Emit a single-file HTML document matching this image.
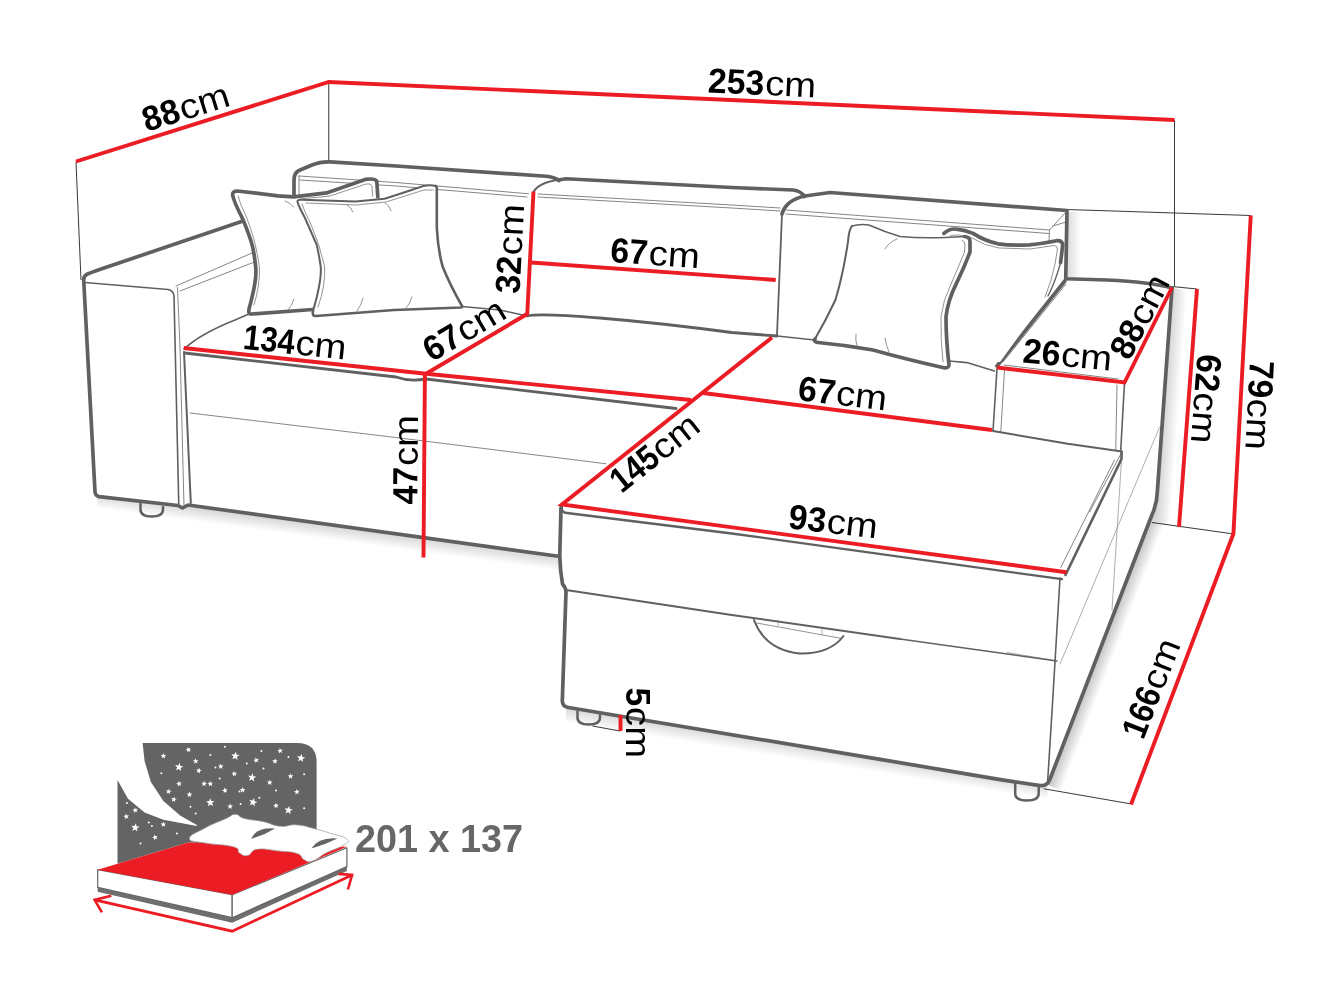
<!DOCTYPE html>
<html><head><meta charset="utf-8"><title>Sofa dimensions</title>
<style>
html,body{margin:0;padding:0;background:#fff;}
body{width:1343px;height:1007px;overflow:hidden;font-family:"Liberation Sans",sans-serif;}
svg{display:block;will-change:transform;}
svg text{font-family:"Liberation Sans",sans-serif;}
</style></head><body>
<svg width="1343" height="1007" viewBox="0 0 1343 1007">
<rect width="1343" height="1007" fill="#fff"/>
<defs><linearGradient id="s1" gradientUnits="userSpaceOnUse" x1="1165" y1="391" x2="1180" y2="392.1"><stop offset="0" stop-color="#000" stop-opacity=".17"/><stop offset="1" stop-color="#000" stop-opacity="0"/></linearGradient><linearGradient id="s2" gradientUnits="userSpaceOnUse" x1="1099" y1="652" x2="1113" y2="657.4"><stop offset="0" stop-color="#000" stop-opacity=".24"/><stop offset="1" stop-color="#000" stop-opacity="0"/></linearGradient><linearGradient id="s3" gradientUnits="userSpaceOnUse" x1="370" y1="531" x2="368.1" y2="545"><stop offset="0" stop-color="#000" stop-opacity=".16"/><stop offset="1" stop-color="#000" stop-opacity="0"/></linearGradient><linearGradient id="s4" gradientUnits="userSpaceOnUse" x1="808" y1="746" x2="805.6" y2="761"><stop offset="0" stop-color="#000" stop-opacity=".16"/><stop offset="1" stop-color="#000" stop-opacity="0"/></linearGradient><linearGradient id="s5" gradientUnits="userSpaceOnUse" x1="1068" y1="0" x2="1081" y2="0"><stop offset="0" stop-color="#000" stop-opacity=".13"/><stop offset="1" stop-color="#000" stop-opacity="0"/></linearGradient></defs>
<polygon points="1172,288 1157,495 1156,507 1151,520 1166,525.5 1171,509 1172,497 1187,290" fill="url(#s1)"/>
<polygon points="1150.75,520 1047.5,785 1061.5,790.4 1164.8,525.4" fill="url(#s2)"/>
<polygon points="97,496.5 183.75,506 558.5,556.25 558.5,571.5 183.75,521 97,511.5" fill="url(#s3)"/>
<polygon points="566,707 1047.5,785 1047.5,800.5 566,722.5" fill="url(#s4)"/>
<rect x="1068" y="212" width="13" height="66" fill="url(#s5)"/>
<path d="M328.75,82 V160" fill="none" stroke="#222" stroke-width="0.9"/>
<path d="M76,162 L81,280" fill="none" stroke="#222" stroke-width="0.9"/>
<path d="M1174.5,120 V286" fill="none" stroke="#222" stroke-width="0.9"/>
<path d="M1067,209.5 L1250.75,215.5" fill="none" stroke="#222" stroke-width="0.9"/>
<path d="M1172,286.5 L1197,289" fill="none" stroke="#222" stroke-width="0.9"/>
<path d="M1152,522.5 L1232,533.75" fill="none" stroke="#222" stroke-width="0.9"/>
<path d="M1043.75,788.75 L1130,803.75" fill="none" stroke="#222" stroke-width="0.9"/>
<path d="M592.5,726 L620,731" fill="none" stroke="#222" stroke-width="0.9"/>
<path d="M176,286 L252,253" fill="none" stroke="#777" stroke-width="0.9" stroke-linecap="round" stroke-linejoin="round" />
<path d="M180,291 L257,261" fill="none" stroke="#777" stroke-width="0.9" stroke-linecap="round" stroke-linejoin="round" />
<path d="M177.5,287.5 L180,347 L184,506" fill="none" stroke="#777" stroke-width="0.9" stroke-linecap="round" stroke-linejoin="round" />
<path d="M299,176 L396,182.5 L528.5,193.75" fill="none" stroke="#777" stroke-width="0.9" stroke-linecap="round" stroke-linejoin="round" />
<path d="M300,180 L396,186 L527,197" fill="none" stroke="#777" stroke-width="0.9" stroke-linecap="round" stroke-linejoin="round" />
<path d="M299,176 L299,194" fill="none" stroke="#777" stroke-width="0.9" stroke-linecap="round" stroke-linejoin="round" />
<path d="M538,194 L731.75,205 L780,208" fill="none" stroke="#777" stroke-width="0.9" stroke-linecap="round" stroke-linejoin="round" />
<path d="M538,197 L731.75,208 L780,211" fill="none" stroke="#777" stroke-width="0.9" stroke-linecap="round" stroke-linejoin="round" />
<path d="M785.75,210 L1049.5,230 L1066,212" fill="none" stroke="#777" stroke-width="0.9" stroke-linecap="round" stroke-linejoin="round" />
<path d="M786,214 L1049,233.5" fill="none" stroke="#777" stroke-width="0.9" stroke-linecap="round" stroke-linejoin="round" />
<path d="M1049.5,230 L1048,262" fill="none" stroke="#777" stroke-width="0.9" stroke-linecap="round" stroke-linejoin="round" />
<path d="M1053,226 L1066,222" fill="none" stroke="#777" stroke-width="0.9" stroke-linecap="round" stroke-linejoin="round" />
<path d="M190,413 L396,437.5 L606,463.75" fill="none" stroke="#777" stroke-width="0.9" stroke-linecap="round" stroke-linejoin="round" />
<path d="M1004.5,370 L1000.75,432.5" fill="none" stroke="#777" stroke-width="0.9" stroke-linecap="round" stroke-linejoin="round" />
<path d="M1117,385 L1115.75,450" fill="none" stroke="#777" stroke-width="0.9" stroke-linecap="round" stroke-linejoin="round" />
<path d="M1004,365 L1118,379" fill="none" stroke="#777" stroke-width="0.9" stroke-linecap="round" stroke-linejoin="round" />
<path d="M1003,362 L1066,284" fill="none" stroke="#777" stroke-width="0.9" stroke-linecap="round" stroke-linejoin="round" />
<path d="M1060.75,567.5 L1114.5,460" fill="none" stroke="#777" stroke-width="0.9" stroke-linecap="round" stroke-linejoin="round" />
<path d="M1122,452 L1112,610" fill="none" stroke="#777" stroke-width="0.6" stroke-linecap="round" stroke-linejoin="round" />
<path d="M1159.6,427 L1060,664" fill="none" stroke="#777" stroke-width="0.6" stroke-linecap="round" stroke-linejoin="round" />
<path d="M1007,652.5 L1052,660" fill="none" stroke="#777" stroke-width="0.6" stroke-linecap="round" stroke-linejoin="round" />
<path d="M1122,452 L1089.5,512" fill="none" stroke="#777" stroke-width="0.9" stroke-linecap="round" stroke-linejoin="round" />
<path d="M85,282.5 L168,289.5 Q173.5,290.5 174,296 L178.75,504" fill="none" stroke="#606060" stroke-width="1.6" stroke-linecap="round" stroke-linejoin="round" />
<path d="M184,349 Q200,334 235,320 L250,313.5" fill="none" stroke="#606060" stroke-width="1.6" stroke-linecap="round" stroke-linejoin="round" />
<path d="M184,352 L190.8,503" fill="none" stroke="#606060" stroke-width="2.0" stroke-linecap="round" stroke-linejoin="round" />
<path d="M184.5,353 L396,377 Q410,382 426,379 L676,408.5" fill="none" stroke="#606060" stroke-width="2.8" stroke-linecap="round" stroke-linejoin="round" />
<path d="M462,306.5 L500,310 L527,316" fill="none" stroke="#606060" stroke-width="1.6" stroke-linecap="round" stroke-linejoin="round" />
<path d="M527,316 Q540,313 600,318 T731.75,332.5 L777,336" fill="none" stroke="#606060" stroke-width="2.8" stroke-linecap="round" stroke-linejoin="round" />
<path d="M428,372 L526,313" fill="none" stroke="#606060" stroke-width="1.2" stroke-linecap="round" stroke-linejoin="round" />
<path d="M782,214 L777,335" fill="none" stroke="#606060" stroke-width="1.8" stroke-linecap="round" stroke-linejoin="round" />
<path d="M777,336 L814.5,340" fill="none" stroke="#606060" stroke-width="1.6" stroke-linecap="round" stroke-linejoin="round" />
<path d="M949.5,361 L966.8,362.6 L994.5,371" fill="none" stroke="#606060" stroke-width="1.6" stroke-linecap="round" stroke-linejoin="round" />
<path d="M997,368.75 L993,431" fill="none" stroke="#606060" stroke-width="1.6" stroke-linecap="round" stroke-linejoin="round" />
<path d="M993,431 L1067.75,443.75 L1122,451.5" fill="none" stroke="#606060" stroke-width="2.0" stroke-linecap="round" stroke-linejoin="round" />
<path d="M1124.5,382.5 L1120.75,450" fill="none" stroke="#606060" stroke-width="1.6" stroke-linecap="round" stroke-linejoin="round" />
<path d="M561.5,508 Q562,512.5 567,513 L731.75,533.5 L1062,579.2" fill="none" stroke="#606060" stroke-width="2.3" stroke-linecap="round" stroke-linejoin="round" />
<path d="M566,590 L731.75,615 L900,639" fill="none" stroke="#606060" stroke-width="2.0" stroke-linecap="round" stroke-linejoin="round" />
<path d="M900,639 L1057,661" fill="none" stroke="#606060" stroke-width="1.4" stroke-linecap="round" stroke-linejoin="round" />
<path d="M1060,578 L1052,711.75 L1047.5,783.75" fill="none" stroke="#606060" stroke-width="1.6" stroke-linecap="round" stroke-linejoin="round" />
<path d="M1065.5,575 L1121.5,459 L1121.5,452" fill="none" stroke="#606060" stroke-width="2.6" stroke-linecap="round" stroke-linejoin="round" />
<path d="M754,620 Q765,650 800,653.5 Q830,654 843.5,636" fill="none" stroke="#606060" stroke-width="2.0" stroke-linecap="round" stroke-linejoin="round" />
<path d="M754,622.5 L842,638.5" fill="none" stroke="#777" stroke-width="0.8" stroke-linecap="round" stroke-linejoin="round" />
<path d="M778,620 L778,625.5 M822,627 L822,634.5" fill="none" stroke="#777" stroke-width="0.6" stroke-linecap="round" stroke-linejoin="round" />
<path d="M140.5,504 V509.5 Q140.5,516.5 151.75,516.5 Q163,516.5 163,509.5 V507" fill="none" stroke="#606060" stroke-width="2.5" stroke-linecap="round" stroke-linejoin="round" />
<path d="M577.5,711 V717.5 Q577.5,724.5 588.75,724.5 Q600,724.5 600,717.5 V715" fill="none" stroke="#606060" stroke-width="2.5" stroke-linecap="round" stroke-linejoin="round" />
<path d="M1015.2,783.4 V793.6 Q1015.2,800.6 1026.95,800.6 Q1038.7,800.6 1038.7,793.6 V788.1" fill="none" stroke="#606060" stroke-width="2.5" stroke-linecap="round" stroke-linejoin="round" />
<path d="M243,221 L110,266 Q95,271 87.5,274 Q83,276 83.75,281 L95,492 Q95.3,496 99,496.6 L178,505.5 L182.5,508 L188,505 L558.5,556.25" fill="none" stroke="#606060" stroke-width="3.7" stroke-linecap="round" stroke-linejoin="round" />
<path d="M294,197 L294,180 Q294,173 299,170.5 L312,165 Q320,161.5 330,161.8 L396,166 L546,176.25 Q554,177 559,180.5" fill="none" stroke="#606060" stroke-width="3.7" stroke-linecap="round" stroke-linejoin="round" />
<path d="M533.5,192 Q538,183 559,179.5" fill="none" stroke="#606060" stroke-width="2.0" stroke-linecap="round" stroke-linejoin="round" />
<path d="M558,180 L566,178.75 L731.75,187.5 L793,190 Q801,191 804.5,196.5" fill="none" stroke="#606060" stroke-width="3.7" stroke-linecap="round" stroke-linejoin="round" />
<path d="M782,214 Q786,200 805,196 L830,192.5 L1067,210.5 L1065.75,278.75 L1107,280 Q1150,282 1172,288" fill="none" stroke="#606060" stroke-width="3.7" stroke-linecap="round" stroke-linejoin="round" />
<path d="M1172,288 L1157.3,492 Q1157,504 1151.5,516 L1050,779 Q1047.5,786.5 1040,785.6 L1000,779.6 L875.75,758.6 L568.5,707.5 Q562.5,706.5 562.3,701 L566,592 Q566,588 562.5,584 Q560,570 559.75,555 L561,508 Q561.3,505.5 562,505" fill="none" stroke="#606060" stroke-width="3.7" stroke-linecap="round" stroke-linejoin="round" />
<path d="M1064.8,281 L997,366" fill="none" stroke="#606060" stroke-width="3.7" stroke-linecap="round" stroke-linejoin="round" />
<path d="M232.6,194 Q233,191 237.4,191 L278,195.8 L293.6,196.8 L326.5,192.9 L365.2,179.4 Q375,178 376.8,181.3 L377.8,197 L300,200 L316,245 L320,267 L313,311 L251,314 Q248,314 249,309 Q257,280 255.8,268 Q254,250 251,241 Q246,226 241.3,216 Q234,202 232.6,194 Z" fill="#fff" stroke="none"/>
<path d="M377.8,197 L376.8,181.3 Q375,178 365.2,179.4 L326.5,192.9 L293.6,196.8 L278,195.8 L237.4,191 Q232.5,191 232.6,195 Q234,202 241.3,216 Q246,226 251,241 Q254,250 255.8,268 Q257,280 249,309 Q248,314.5 252,314 L313,309.5" fill="none" stroke="#606060" stroke-width="3.7" stroke-linecap="round" stroke-linejoin="round" />
<path d="M238,196 Q240,204 246,216 Q256,240 259.5,268 Q260,285 254,305" fill="none" stroke="#777" stroke-width="0.8" stroke-linecap="round" stroke-linejoin="round" />
<path d="M300,199 L330,196 L366,184 Q371,183 372,186 L372.5,196" fill="none" stroke="#777" stroke-width="0.8" stroke-linecap="round" stroke-linejoin="round" />
<path d="M297.4,201 Q298,199.5 301.3,199.7 L355.5,201.6 L384.6,198.7 L423.3,186 L435.9,186 Q437,186 436.8,189 L436.8,227.8 Q438,250 442.6,266.5 L462,306 L394,310 L314.9,315.9 Q312,316 313,311 Q322,280 320.7,266.5 Q319,255 316.8,245 L305,218 Q299,207 297.4,201 Z" fill="#fff"/>
<path d="M435.9,186 Q437,187 436.8,189 L436.8,227.8 Q438,250 442.6,266.5 Q450,285 462,306 Q462.5,307.5 461,307.5 L394,310 L316,316 Q312,316.5 313,311" fill="none" stroke="#606060" stroke-width="2.6" stroke-linecap="round" stroke-linejoin="round" />
<path d="M313,311 Q322,280 320.7,266.5 Q319,255 316.8,245 L305,218 Q299,207 297.4,201.6 Q297.4,199.5 301.3,199.7 L355.5,201.6 L384.6,198.7 Q400,194 423.3,186 Q430,184.5 435.9,186" fill="none" stroke="#606060" stroke-width="2.0" stroke-linecap="round" stroke-linejoin="round" />
<path d="M302,204 Q304,211 310,222 Q320,245 324.5,266 Q326,285 318,307" fill="none" stroke="#777" stroke-width="0.8" stroke-linecap="round" stroke-linejoin="round" />
<path d="M306,203 L356,205 L386,202 L424,190 L433,190" fill="none" stroke="#777" stroke-width="0.8" stroke-linecap="round" stroke-linejoin="round" />
<path d="M285,201 Q291,203 293.5,207 M347,205 Q351,207 353,212 M385,203 Q389,205 391,211" fill="none" stroke="#777" stroke-width="0.8" stroke-linecap="round" stroke-linejoin="round" />
<path d="M294,299 Q292,306 288,310 M363,298 Q361,306 357,311 M412,297 Q410,304 406,308" fill="none" stroke="#777" stroke-width="0.8" stroke-linecap="round" stroke-linejoin="round" />
<path d="M943.9,233.4 Q950,228 956.4,229.2 Q965,230 973,233.4 Q985,241 998,243.8 L1029.4,244.8 L1056.5,240.7 Q1062,240 1062.7,244.8 L1060.6,262.6 L1048,296 L1000,362 L950,360 Z" fill="#fff"/>
<path d="M943.9,233.4 Q950,228 956.4,229.2 Q965,230 973,233.4 Q985,241 998,243.8 Q1012,246 1029.4,244.8 Q1045,243 1056.5,240.7 Q1062,240 1062.7,244.8 L1060.6,262.6" fill="none" stroke="#606060" stroke-width="3.7" stroke-linecap="round" stroke-linejoin="round" />
<path d="M1060.6,262.6 Q1056,280 1048,296" fill="none" stroke="#606060" stroke-width="1.4" stroke-linecap="round" stroke-linejoin="round" />
<path d="M950,236 Q958,233 972,238 Q985,246 999,248 L1030,249 L1054,245.5 Q1057.5,245.5 1057.5,249 L1055,264 Q1052,280 1045,297" fill="none" stroke="#777" stroke-width="0.8" stroke-linecap="round" stroke-linejoin="round" />
<path d="M852,226 Q860,223 868.8,225 L900,236.5 L946,237.5 L964.7,236.5 Q970,237 970,241.7 L970,252 L956.4,283.4 L946,316.8 L949,364.7 Q949,368 943.9,367.8 L873,350 L814.6,341.8 L835.4,300 L848,241.7 Z" fill="#fff"/>
<path d="M852,226 Q860,223.5 868.8,225 Q885,232 900,236.5 Q920,238.5 946,237.5 L964.7,236.5" fill="none" stroke="#606060" stroke-width="1.5" stroke-linecap="round" stroke-linejoin="round" />
<path d="M964.7,236.5 Q970,237 970,241.7 L970,252 Q964,268 956.4,283.4 Q948,300 946,316.8 Q946,340 949,364.7 Q949,368.3 943.9,367.8 Q905,359 873,350 Q845,345 818,342.5 Q813.5,342 815,339" fill="none" stroke="#606060" stroke-width="3.7" stroke-linecap="round" stroke-linejoin="round" />
<path d="M815,339 Q826,320 835.4,300 Q843,275 848,241.7 Q849,229 852,226" fill="none" stroke="#606060" stroke-width="2.0" stroke-linecap="round" stroke-linejoin="round" />
<path d="M962,240 Q965,241 965,245 L964.5,252 Q958,268 951,284 Q943,300 941,317 Q940.5,340 943,362" fill="none" stroke="#777" stroke-width="0.8" stroke-linecap="round" stroke-linejoin="round" />
<path d="M885,249 Q889,242 897,239 M856,334 Q855,339 857,346 M885,338 Q886,345 889,352" fill="none" stroke="#777" stroke-width="0.8" stroke-linecap="round" stroke-linejoin="round" />
<path d="M76,161.5 L328.75,82 L1174.5,120" fill="none" stroke="#ec1c24" stroke-width="3.9" stroke-linecap="butt" stroke-linejoin="miter"/>
<path d="M533.5,191.5 L527.25,314 L426,373.75" fill="none" stroke="#ec1c24" stroke-width="3.9" stroke-linecap="butt" stroke-linejoin="miter"/>
<path d="M531,262.5 L775.75,280" fill="none" stroke="#ec1c24" stroke-width="3.9" stroke-linecap="butt" stroke-linejoin="miter"/>
<path d="M183.75,348 L426,373.75 L691,400" fill="none" stroke="#ec1c24" stroke-width="3.9" stroke-linecap="butt" stroke-linejoin="miter"/>
<path d="M424.9,373.75 L423.5,557.5" fill="none" stroke="#ec1c24" stroke-width="3.9" stroke-linecap="butt" stroke-linejoin="miter"/>
<path d="M772,337.5 L562,504.5 L1066.5,572.3" fill="none" stroke="#ec1c24" stroke-width="3.9" stroke-linecap="butt" stroke-linejoin="miter"/>
<path d="M703,393 L992,430" fill="none" stroke="#ec1c24" stroke-width="3.9" stroke-linecap="butt" stroke-linejoin="miter"/>
<path d="M997,367.5 L1124.5,382.5 L1172,287.5" fill="none" stroke="#ec1c24" stroke-width="3.9" stroke-linecap="butt" stroke-linejoin="miter"/>
<path d="M1197,289 L1179,527" fill="none" stroke="#ec1c24" stroke-width="3.9" stroke-linecap="butt" stroke-linejoin="miter"/>
<path d="M1250.75,215.5 L1233.4,533.75 L1131,804.5" fill="none" stroke="#ec1c24" stroke-width="3.9" stroke-linecap="butt" stroke-linejoin="miter"/>
<path d="M620.5,715 V731" fill="none" stroke="#ec1c24" stroke-width="3.9" stroke-linecap="butt" stroke-linejoin="miter"/>
<text transform="translate(146.5,132) rotate(-17.4)" font-size="35" fill="#000"><tspan font-weight="700" textLength="37.6" lengthAdjust="spacingAndGlyphs">88</tspan><tspan x="38.4" textLength="51" lengthAdjust="spacingAndGlyphs">cm</tspan></text>
<text transform="translate(707.5,92.5) rotate(2.6)" font-size="35" fill="#000"><tspan font-weight="700" textLength="56.4" lengthAdjust="spacingAndGlyphs">253</tspan><tspan x="57.2" textLength="51" lengthAdjust="spacingAndGlyphs">cm</tspan></text>
<text transform="translate(519.5,294) rotate(-87)" font-size="35" fill="#000"><tspan font-weight="700" textLength="37.6" lengthAdjust="spacingAndGlyphs">32</tspan><tspan x="38.4" textLength="51" lengthAdjust="spacingAndGlyphs">cm</tspan></text>
<text transform="translate(609.75,262) rotate(4)" font-size="35" fill="#000"><tspan font-weight="700" textLength="37.6" lengthAdjust="spacingAndGlyphs">67</tspan><tspan x="38.4" textLength="51" lengthAdjust="spacingAndGlyphs">cm</tspan></text>
<text transform="translate(242.3,348.8) rotate(6)" font-size="35" fill="#000"><tspan font-weight="700" textLength="51.6" lengthAdjust="spacingAndGlyphs">134</tspan><tspan x="52.4" textLength="51" lengthAdjust="spacingAndGlyphs">cm</tspan></text>
<text transform="translate(431.7,362.4) rotate(-30.5)" font-size="35" fill="#000"><tspan font-weight="700" textLength="37.6" lengthAdjust="spacingAndGlyphs">67</tspan><tspan x="38.4" textLength="51" lengthAdjust="spacingAndGlyphs">cm</tspan></text>
<text transform="translate(417.2,504.5) rotate(-89.5)" font-size="35" fill="#000"><tspan font-weight="700" textLength="37.6" lengthAdjust="spacingAndGlyphs">47</tspan><tspan x="38.4" textLength="51" lengthAdjust="spacingAndGlyphs">cm</tspan></text>
<text transform="translate(621.5,494) rotate(-38.5)" font-size="35" fill="#000"><tspan font-weight="700" textLength="51.6" lengthAdjust="spacingAndGlyphs">145</tspan><tspan x="52.4" textLength="51" lengthAdjust="spacingAndGlyphs">cm</tspan></text>
<text transform="translate(797,400) rotate(6.8)" font-size="35" fill="#000"><tspan font-weight="700" textLength="37.6" lengthAdjust="spacingAndGlyphs">67</tspan><tspan x="38.4" textLength="51" lengthAdjust="spacingAndGlyphs">cm</tspan></text>
<text transform="translate(787.5,528.3) rotate(6.5)" font-size="35" fill="#000"><tspan font-weight="700" textLength="37.6" lengthAdjust="spacingAndGlyphs">93</tspan><tspan x="38.4" textLength="51" lengthAdjust="spacingAndGlyphs">cm</tspan></text>
<text transform="translate(1022,362.5) rotate(5.2)" font-size="35" fill="#000"><tspan font-weight="700" textLength="37.6" lengthAdjust="spacingAndGlyphs">26</tspan><tspan x="38.4" textLength="51" lengthAdjust="spacingAndGlyphs">cm</tspan></text>
<text transform="translate(1129.4,361.5) rotate(-62.5)" font-size="35" fill="#000"><tspan font-weight="700" textLength="37.6" lengthAdjust="spacingAndGlyphs">88</tspan><tspan x="38.4" textLength="51" lengthAdjust="spacingAndGlyphs">cm</tspan></text>
<text transform="translate(1197.5,353.5) rotate(94.3)" font-size="35" fill="#000"><tspan font-weight="700" textLength="37.6" lengthAdjust="spacingAndGlyphs">62</tspan><tspan x="38.4" textLength="51" lengthAdjust="spacingAndGlyphs">cm</tspan></text>
<text transform="translate(1250,360) rotate(93)" font-size="35" fill="#000"><tspan font-weight="700" textLength="37.6" lengthAdjust="spacingAndGlyphs">79</tspan><tspan x="38.4" textLength="51" lengthAdjust="spacingAndGlyphs">cm</tspan></text>
<text transform="translate(1143.2,740.6) rotate(-68.5)" font-size="35" fill="#000"><tspan font-weight="700" textLength="51.6" lengthAdjust="spacingAndGlyphs">166</tspan><tspan x="52.4" textLength="51" lengthAdjust="spacingAndGlyphs">cm</tspan></text>
<text transform="translate(625.5,687.5) rotate(90)" font-size="35" fill="#000"><tspan font-weight="700" textLength="18.8" lengthAdjust="spacingAndGlyphs">5</tspan><tspan x="19.6" textLength="51" lengthAdjust="spacingAndGlyphs">cm</tspan></text>
<path d="M117.5,743 H297 Q316.6,743 316.6,762 V846 L188.4,842.6 L117.5,863.8 Z" fill="#646464"/>
<polygon points="115.4,740.4 142.6,742.9 144.6,761.3 150.9,782.1 163.4,800.9 180.1,815.5 196.8,824.9 196.8,825.9 163.4,819.7 144.6,812.4 128.0,798.8 117.5,780.0 115.4,780.0" fill="#fff"/>
<polygon points="187.6,746.9 188.9,748.6 190.9,748.2 189.7,749.9 190.8,751.7 188.7,751.0 187.3,752.6 187.4,750.5 185.4,749.7 187.4,749.0" fill="#fff"/>
<polygon points="163.5,753.1 164.2,755.1 166.3,755.2 164.6,756.5 165.1,758.6 163.4,757.3 161.6,758.4 162.2,756.4 160.6,755.0 162.7,755.0" fill="#fff"/>
<circle cx="224.9" cy="746.7" r="1" fill="#fff"/>
<polygon points="235.8,751.7 236.6,754.7 239.6,755.1 237.0,756.8 237.5,759.9 235.1,757.9 232.4,759.3 233.5,756.4 231.3,754.3 234.4,754.5" fill="#fff"/>
<polygon points="279.8,747.9 280.8,749.7 282.9,749.6 281.4,751.1 282.2,753.0 280.3,752.1 278.7,753.5 279.0,751.4 277.2,750.3 279.3,749.9" fill="#fff"/>
<polygon points="301.8,753.8 302.3,756.9 305.4,757.5 302.6,759.0 302.9,762.1 300.7,760.0 297.9,761.2 299.2,758.4 297.1,756.1 300.2,756.5" fill="#fff"/>
<circle cx="210.3" cy="755.0" r="1" fill="#fff"/>
<circle cx="261.4" cy="750.9" r="1" fill="#fff"/>
<circle cx="288.5" cy="757.1" r="1" fill="#fff"/>
<polygon points="255.6,757.3 256.7,759.1 258.8,758.7 257.4,760.4 258.4,762.2 256.5,761.5 255.0,763.0 255.1,760.9 253.2,759.9 255.3,759.4" fill="#fff"/>
<polygon points="275.2,758.3 275.8,760.3 277.9,760.6 276.1,761.8 276.5,763.8 274.8,762.5 273.0,763.5 273.7,761.6 272.2,760.1 274.3,760.2" fill="#fff"/>
<circle cx="246.8" cy="763.4" r="1" fill="#fff"/>
<polygon points="179.7,762.8 180.3,765.8 183.4,766.4 180.7,768.0 181.0,771.0 178.8,768.9 175.9,770.2 177.2,767.4 175.1,765.1 178.2,765.5" fill="#fff"/>
<polygon points="195.5,758.3 196.4,760.2 198.5,760.2 196.9,761.6 197.6,763.6 195.8,762.5 194.1,763.8 194.6,761.7 192.8,760.6 194.9,760.3" fill="#fff"/>
<polygon points="199.5,767.7 199.8,769.8 201.8,770.4 199.9,771.3 200.0,773.4 198.6,771.9 196.6,772.6 197.6,770.8 196.3,769.1 198.4,769.5" fill="#fff"/>
<polygon points="220.7,763.5 221.5,765.5 223.6,765.6 221.9,766.9 222.5,768.9 220.7,767.7 219.0,768.9 219.5,766.9 217.9,765.6 220.0,765.5" fill="#fff"/>
<circle cx="215.5" cy="767.5" r="1" fill="#fff"/>
<circle cx="263.5" cy="768.6" r="1" fill="#fff"/>
<polygon points="233.8,770.8 234.9,772.7 237.0,772.4 235.5,774.0 236.4,775.9 234.5,775.0 232.9,776.5 233.2,774.4 231.3,773.3 233.4,772.9" fill="#fff"/>
<polygon points="252.6,773.2 253.3,776.2 256.4,776.8 253.7,778.3 254.1,781.4 251.8,779.4 249.0,780.7 250.2,777.9 248.1,775.6 251.2,775.9" fill="#fff"/>
<polygon points="290.3,773.3 291.2,775.2 293.4,775.1 291.8,776.6 292.6,778.6 290.7,777.5 289.0,778.9 289.4,776.8 287.7,775.6 289.8,775.3" fill="#fff"/>
<circle cx="304.1" cy="774.2" r="1" fill="#fff"/>
<circle cx="161.3" cy="773.2" r="1" fill="#fff"/>
<polygon points="178.3,780.9 179.5,782.6 181.6,782.2 180.3,783.9 181.3,785.7 179.3,785.0 177.9,786.6 178.0,784.5 176.0,783.6 178.1,783.0" fill="#fff"/>
<polygon points="204.2,780.8 204.9,782.8 207.0,783.0 205.2,784.2 205.7,786.3 204.0,785.1 202.2,786.1 202.8,784.1 201.3,782.7 203.4,782.7" fill="#fff"/>
<polygon points="209.8,780.8 210.9,782.7 213.0,782.4 211.6,784.0 212.5,785.9 210.5,785.0 209.0,786.5 209.2,784.4 207.3,783.4 209.4,782.9" fill="#fff"/>
<polygon points="270.1,779.6 270.6,781.6 272.7,782.0 270.9,783.1 271.2,785.2 269.6,783.8 267.7,784.7 268.5,782.8 267.0,781.3 269.1,781.4" fill="#fff"/>
<circle cx="219.7" cy="778.4" r="1" fill="#fff"/>
<polygon points="169.2,788.6 169.5,790.7 171.6,791.1 169.7,792.1 169.9,794.2 168.4,792.7 166.4,793.6 167.4,791.7 166.0,790.1 168.1,790.4" fill="#fff"/>
<polygon points="189.4,791.6 190.2,793.6 192.3,793.6 190.7,795.0 191.3,797.0 189.5,795.9 187.8,797.1 188.3,795.1 186.6,793.8 188.7,793.6" fill="#fff"/>
<polygon points="224.1,787.6 225.4,789.3 227.4,788.8 226.2,790.5 227.2,792.4 225.2,791.7 223.8,793.3 223.9,791.2 221.9,790.3 223.9,789.7" fill="#fff"/>
<polygon points="242.7,787.1 243.4,789.1 245.5,789.2 243.8,790.5 244.3,792.5 242.6,791.3 240.8,792.4 241.4,790.4 239.8,789.0 241.9,789.0" fill="#fff"/>
<circle cx="239.5" cy="791.5" r="1" fill="#fff"/>
<circle cx="276.0" cy="790.5" r="1" fill="#fff"/>
<polygon points="296.5,788.9 297.5,790.8 299.6,790.7 298.1,792.2 298.9,794.1 297.0,793.2 295.4,794.6 295.7,792.5 293.9,791.4 296.0,791.0" fill="#fff"/>
<polygon points="174.3,796.5 174.7,798.6 176.8,799.0 174.9,800.0 175.1,802.1 173.6,800.7 171.7,801.5 172.6,799.6 171.2,798.0 173.3,798.3" fill="#fff"/>
<polygon points="210.1,798.2 211.3,801.0 214.4,801.0 212.1,803.0 213.1,806.0 210.4,804.4 207.9,806.3 208.6,803.2 206.1,801.4 209.2,801.1" fill="#fff"/>
<polygon points="254.1,798.1 254.5,801.2 257.5,802.0 254.6,803.3 254.7,806.4 252.6,804.1 249.7,805.2 251.2,802.5 249.3,800.0 252.4,800.6" fill="#fff"/>
<polygon points="230.2,803.5 230.9,805.5 233.0,805.6 231.3,806.9 231.8,809.0 230.1,807.8 228.3,808.9 228.9,806.9 227.3,805.5 229.4,805.5" fill="#fff"/>
<circle cx="240.6" cy="804.0" r="1" fill="#fff"/>
<circle cx="259.3" cy="797.8" r="1" fill="#fff"/>
<polygon points="275.6,802.7 276.6,804.6 278.7,804.4 277.2,805.9 278.1,807.8 276.2,806.9 274.6,808.3 274.9,806.2 273.0,805.2 275.1,804.8" fill="#fff"/>
<polygon points="289.2,805.9 289.8,809.0 292.9,809.6 290.2,811.1 290.5,814.2 288.2,812.1 285.4,813.4 286.7,810.6 284.6,808.3 287.7,808.6" fill="#fff"/>
<circle cx="304.1" cy="808.2" r="1" fill="#fff"/>
<circle cx="190.5" cy="806.7" r="1" fill="#fff"/>
<circle cx="195.7" cy="813.4" r="1" fill="#fff"/>
<polygon points="134.6,807.4 135.7,809.1 137.8,808.7 136.5,810.4 137.5,812.2 135.5,811.5 134.1,813.0 134.2,810.9 132.3,810.0 134.3,809.4" fill="#fff"/>
<circle cx="126.9" cy="803.0" r="1" fill="#fff"/>
<polygon points="125.8,813.6 126.9,815.4 129.0,815.2 127.5,816.7 128.4,818.7 126.5,817.8 124.9,819.2 125.2,817.1 123.3,816.1 125.4,815.6" fill="#fff"/>
<polygon points="135.9,823.2 136.5,826.3 139.6,826.8 136.9,828.4 137.3,831.5 135.0,829.4 132.2,830.7 133.4,827.9 131.3,825.7 134.4,825.9" fill="#fff"/>
<circle cx="148.8" cy="822.4" r="1" fill="#fff"/>
<circle cx="151.9" cy="825.9" r="1" fill="#fff"/>
<polygon points="163.4,821.5 164.1,823.4 166.2,823.5 164.6,824.8 165.2,826.8 163.4,825.7 161.7,826.9 162.2,824.9 160.5,823.6 162.6,823.4" fill="#fff"/>
<polygon points="154.3,834.5 155.5,836.2 157.6,835.8 156.3,837.5 157.4,839.3 155.4,838.6 153.9,840.2 154.0,838.0 152.1,837.2 154.1,836.6" fill="#fff"/>
<circle cx="177.0" cy="833.6" r="1" fill="#fff"/>
<circle cx="140.5" cy="843.6" r="1" fill="#fff"/>
<polygon points="97.7,887.4 232.2,917.7 346.9,866.6 346.9,871.0 232.2,922.7 97.7,891.8" fill="#6e6e6e"/>
<polygon points="97.7,869.7 232.2,894.7 232.2,917.7 97.7,887.4" fill="#fff" stroke="#646464" stroke-width="1.2" stroke-linejoin="round"/>
<polygon points="232.2,894.7 346.9,847.8 346.9,866.6 232.2,917.7" fill="#fff" stroke="#646464" stroke-width="1.2" stroke-linejoin="round"/>
<polygon points="97.7,869.7 188.4,842.6 346.9,846.8 232.2,894.7" fill="#ec1c24"/>
<path d="M189.5,838.4 C189.5,834.7 196.0,833.0 205.1,828.0 C214.2,823.0 218.4,822.0 226.0,818.6 C233.5,815.2 230.6,814.4 235.3,814.4 C240.0,814.4 237.7,816.8 244.7,818.6 C251.8,820.4 254.6,819.8 263.5,821.7 C272.3,823.7 271.8,825.5 280.2,826.3 C288.5,827.1 288.5,824.3 296.8,824.9 C305.2,825.4 305.2,826.3 313.5,828.4 C321.9,830.5 322.0,830.6 330.2,833.2 C338.4,835.8 342.9,836.0 346.5,838.8 C350.0,841.7 349.5,841.1 344.4,844.7 C339.3,848.2 334.0,849.0 326.0,853.0 C318.1,857.1 318.0,859.3 312.5,860.9 C307.0,862.6 308.1,861.6 304.1,859.7 C300.2,857.8 303.4,855.6 296.8,853.4 C290.3,851.2 288.0,852.0 278.1,850.9 C268.2,849.9 264.8,848.1 257.2,849.3 C249.7,850.4 252.3,854.6 247.8,855.5 C243.4,856.5 243.2,855.2 239.5,853.0 C235.9,850.8 241.9,849.3 233.3,846.8 C224.7,844.3 216.1,845.1 205.1,843.0 C194.2,840.9 189.5,842.2 189.5,838.4Z" fill="#fff" stroke="#999" stroke-width="0.7" stroke-linejoin="round"/>
<path d="M251.0,838.8 Q256.2,827.2 275.0,828.4 Q264.5,834.9 251.0,838.8 Z" fill="#646464"/>
<path d="M311.4,848.4 Q318.7,836.8 337.5,838.4 Q325.0,844.7 311.4,848.4 Z" fill="#646464"/>
<polyline points="94.6,899.9 232.2,931.2 352.1,874.9" fill="none" stroke="#ec1c24" stroke-width="2.8" stroke-linejoin="miter"/>
<polyline points="111.3,895.8 94.6,899.9 101.9,912.4" fill="none" stroke="#ec1c24" stroke-width="2.6"/>
<polyline points="338.5,873.9 352.1,874.9 347.9,889.5" fill="none" stroke="#ec1c24" stroke-width="2.6"/>
<text x="355" y="852" font-size="38" font-weight="700" fill="#676767" textLength="168" lengthAdjust="spacingAndGlyphs">201 x 137</text>
</svg>
</body></html>
